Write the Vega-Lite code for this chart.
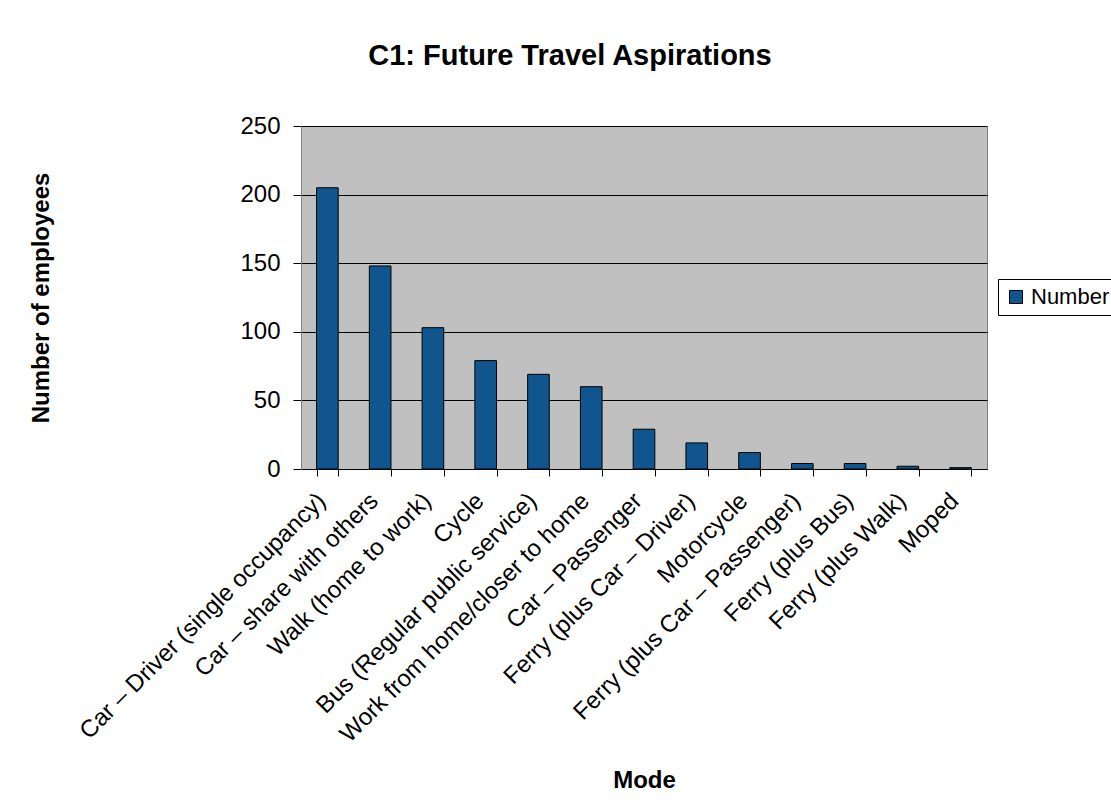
{
  "$schema": "https://vega.github.io/schema/vega-lite/v6.json",
  "width": 686,
  "height": 343,
  "autosize": "none",
  "padding": {"left": 301, "top": 126, "right": 124, "bottom": 338},
  "background": "#ffffff",
  "title": {
    "text": "C1: Future Travel Aspirations",
    "font": "Liberation Sans",
    "fontSize": 29,
    "fontWeight": "bold",
    "color": "#000000",
    "anchor": "middle",
    "frame": "group",
    "dx": -74,
    "baseline": "alphabetic",
    "offset": 20
  },
  "data": {
    "values": [
      {"mode": "Car – Driver (single occupancy)", "number": 205},
      {"mode": "Car – share with others", "number": 148},
      {"mode": "Walk (home to work)", "number": 103},
      {"mode": "Cycle", "number": 79},
      {"mode": "Bus (Regular public service)", "number": 69},
      {"mode": "Work from home/closer to home", "number": 60},
      {"mode": "Car – Passenger", "number": 29},
      {"mode": "Ferry (plus Car – Driver)", "number": 19},
      {"mode": "Motorcycle", "number": 12},
      {"mode": "Ferry (plus Car – Passenger)", "number": 4},
      {"mode": "Ferry (plus Bus)", "number": 4},
      {"mode": "Ferry (plus Walk)", "number": 2},
      {"mode": "Moped", "number": 1}
    ]
  },
  "mark": {"type": "bar", "stroke": "#000000", "strokeWidth": 1},
  "encoding": {
    "x": {
      "field": "mode",
      "type": "nominal",
      "sort": null,
      "scale": {"paddingInner": 0.59, "paddingOuter": 0.295},
      "axis": {
        "title": "Mode",
        "titleFont": "Liberation Sans",
        "titleFontSize": 24,
        "titleFontWeight": "bold",
        "titleColor": "#000000",
        "titleBaseline": "alphabetic",
        "titleY": 318,
        "labelFont": "Liberation Sans",
        "labelFontSize": 24,
        "labelColor": "#000000",
        "labelAngle": -45,
        "labelAlign": "right",
        "labelBaseline": "middle",
        "labelPadding": 21,
        "labelOffset": -6,
        "labelLimit": 0,
        "tickBand": "extent",
        "tickSize": 7,
        "tickColor": "#000000",
        "domainColor": "#000000",
        "grid": false
      }
    },
    "y": {
      "field": "number",
      "type": "quantitative",
      "scale": {"domain": [0, 250], "nice": false},
      "axis": {
        "title": "Number of employees",
        "titleFont": "Liberation Sans",
        "titleFontSize": 24,
        "titleFontWeight": "bold",
        "titleColor": "#000000",
        "titleBaseline": "alphabetic",
        "titleX": -253,
        "values": [0, 50, 100, 150, 200, 250],
        "labelFont": "Liberation Sans",
        "labelFontSize": 24,
        "labelColor": "#000000",
        "labelPadding": 13,
        "tickSize": 8,
        "tickColor": "#000000",
        "domainColor": "#808080",
        "grid": true,
        "gridColor": "#000000",
        "gridOpacity": 1,
        "gridWidth": 1
      }
    },
    "color": {
      "datum": "Number",
      "type": "nominal",
      "scale": {"range": ["#10558D"]},
      "legend": {
        "title": null,
        "orient": "none",
        "legendX": 697,
        "legendY": 153,
        "symbolType": "square",
        "symbolSize": 170,
        "symbolStrokeColor": "#000000",
        "symbolStrokeWidth": 1,
        "labelFont": "Liberation Sans",
        "labelFontSize": 22,
        "labelColor": "#000000",
        "labelLimit": 0,
        "padding": 7,
        "strokeColor": "#000000",
        "fillColor": "#ffffff"
      }
    }
  },
  "config": {
    "view": {"fill": "#C0C0C0", "stroke": "#808080", "strokeWidth": 1}
  }
}
